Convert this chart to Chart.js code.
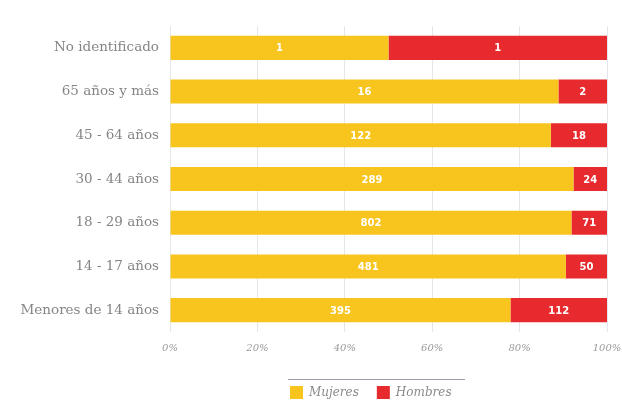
<!DOCTYPE html>
<html>
<head>
<meta charset="utf-8">
<script src="https://cdn.jsdelivr.net/npm/chart.js@4"></script>
<style>
  html, body { margin: 0; padding: 0; background: #fff; }
  #wrap { width: 622px; height: 400px; }
</style>
</head>
<body>
<div id="wrap"><canvas id="chart" width="622" height="400"></canvas></div>
<script>
var CATEGORIES = ['No identificado', '65 años y más', '45 - 64 años', '30 - 44 años', '18 - 29 años', '14 - 17 años', 'Menores de 14 años'];
var MUJERES = [1, 16, 122, 289, 802, 481, 395];
var HOMBRES = [1, 2, 18, 24, 71, 50, 112];
var TICKS = ['0%', '20%', '40%', '60%', '80%', '100%'];
var SERIES_NAMES = ['Mujeres', 'Hombres'];
var COLORS = ['#F8C51F', '#E62A2D'];

// share of each group in its row, in percent
function share(a, b) {
  return a.map(function(v, i) { return v / (v + b[i]) * 100; });
}

var labelPlugin = {
  id: 'segLabels',
  afterDatasetsDraw: function(chart) {
    var ctx = chart.ctx;
    ctx.save();
    ctx.font = 'bold 10px "DejaVu Sans"';
    ctx.fillStyle = '#ffffff';
    ctx.textAlign = 'center';
    ctx.textBaseline = 'middle';
    chart.data.datasets.forEach(function(ds, di) {
      var meta = chart.getDatasetMeta(di);
      meta.data.forEach(function(bar, i) {
        var x = (bar.x + bar.base) / 2;
        ctx.fillText(String(ds.counts[i]), x, bar.y + 1);
      });
    });
    ctx.restore();
  }
};

var legendPlugin = {
  id: 'bottomLegend',
  afterDraw: function(chart) {
    var ctx = chart.ctx;
    var area = chart.chartArea;
    var x0 = area.left + 120;
    var y = 393;
    ctx.save();
    ctx.strokeStyle = '#9aa0a8';
    ctx.lineWidth = 1;
    ctx.beginPath();
    ctx.moveTo(x0 - 2, 379.5);
    ctx.lineTo(x0 + 175, 379.5);
    ctx.stroke();
    ctx.font = 'italic 12px "DejaVu Serif"';
    ctx.textBaseline = 'middle';
    var x = x0;
    chart.data.datasets.forEach(function(ds) {
      ctx.fillStyle = ds.backgroundColor;
      ctx.fillRect(x, y - 7, 13, 13);
      ctx.fillStyle = '#8a8a8a';
      ctx.fillText(ds.label, x + 19, y);
      x += 19 + ctx.measureText(ds.label).width + 18;
    });
    ctx.restore();
  }
};

new Chart(document.getElementById('chart'), {
  type: 'bar',
  data: {
    labels: CATEGORIES,
    datasets: [
      { label: SERIES_NAMES[0], data: share(MUJERES, HOMBRES), counts: MUJERES, backgroundColor: COLORS[0] },
      { label: SERIES_NAMES[1], data: share(HOMBRES, MUJERES), counts: HOMBRES, backgroundColor: COLORS[1] }
    ]
  },
  options: {
    indexAxis: 'y',
    responsive: false,
    animation: false,
    barPercentage: 0.55,
    categoryPercentage: 1,
    layout: { padding: { top: 26, right: 15, bottom: 36, left: 8 } },
    plugins: { legend: { display: false }, tooltip: { enabled: false } },
    scales: {
      x: {
        stacked: true,
        min: 0,
        max: 100,
        border: { display: false },
        grid: { color: '#e3e6ea', drawTicks: false },
        afterFit: function(s) { s.paddingLeft = 0; s.paddingRight = 0; },
        ticks: {
          stepSize: 20,
          padding: 10,
          color: '#9a9a9a',
          font: { family: 'DejaVu Serif', size: 10, style: 'italic' },
          callback: function(v, i) { return TICKS[i]; }
        }
      },
      y: {
        stacked: true,
        border: { display: false },
        grid: { display: false },
        afterFit: function(s) { s.width = 162; },
        ticks: {
          padding: 3,
          color: '#858585',
          font: { family: 'DejaVu Serif', size: 13.5 }
        }
      }
    }
  },
  plugins: [labelPlugin, legendPlugin]
});
</script>
</body>
</html>
